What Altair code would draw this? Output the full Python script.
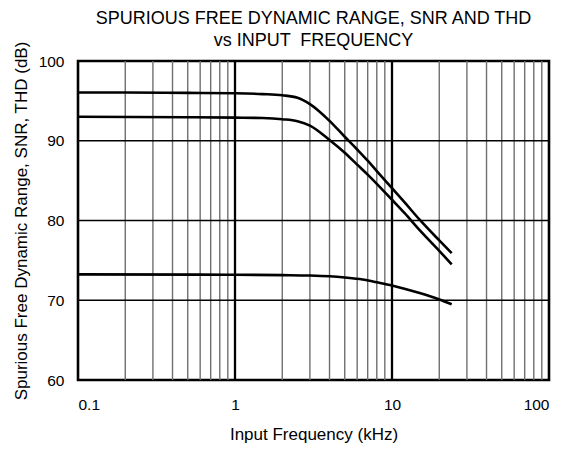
import altair as alt
import pandas as pd

# Curve data
sfdr_f = [0.1, 0.2, 0.5, 1, 1.5, 2, 2.5, 3, 4, 5, 6, 7, 8, 10, 12, 15, 20, 24]
sfdr_v = [96.05, 96.05, 96.0, 95.95, 95.85, 95.7, 95.4, 94.6, 92.5, 90.5, 88.9, 87.5, 86.2, 84.05, 82.3, 80.1, 77.5, 75.9]

snr_f = [0.1, 0.5, 1, 1.5, 2, 2.5, 3, 4, 5, 6, 7, 8, 10, 12, 15, 20, 24]
snr_v = [93.0, 92.95, 92.9, 92.85, 92.7, 92.45, 91.9, 90.1, 88.5, 87.0, 85.75, 84.6, 82.6, 80.95, 78.8, 76.2, 74.5]

thd_f = [0.1, 1, 2, 3, 4, 5, 6.5, 8, 10, 12, 15, 20, 24]
thd_v = [73.25, 73.2, 73.15, 73.1, 73.0, 72.85, 72.6, 72.25, 71.85, 71.45, 70.9, 70.1, 69.5]

x_ticks = [0.1, 1, 10, 100]
y_ticks = [60, 70, 80, 90, 100]
minor_x = [m * d for d in (0.1, 1, 10) for m in range(2, 10)]
major_x = [1, 10]
grid_y = [70, 80, 90]

title_lines = ["SPURIOUS FREE DYNAMIC RANGE, SNR AND THD", "vs INPUT \u00a0FREQUENCY"]

rows = []
for name, fs, vs in (("SFDR", sfdr_f, sfdr_v), ("SNR", snr_f, snr_v), ("THD", thd_f, thd_v)):
    for f, v in zip(fs, vs):
        rows.append({"series": name, "freq": f, "db": v})
df = pd.DataFrame(rows)

xscale = alt.Scale(type="log", domain=[0.1, 100], nice=False)
yscale = alt.Scale(domain=[60, 100], nice=False, zero=False)

FONT = "Liberation Sans"

minor = alt.Chart(pd.DataFrame({"freq": minor_x})).mark_rule(color="#6f6f6f", strokeWidth=1.4).encode(
    x=alt.X("freq:Q", scale=xscale,
            axis=alt.Axis(values=x_ticks, format="~g", grid=False, ticks=False, domain=False,
                          labelFontSize=15.5, labelPadding=17, labelFont=FONT, labelColor="black",
                          title="Input Frequency (kHz)", titleFontSize=17, titleFont=FONT,
                          titleFontWeight="normal", titleColor="black", titlePadding=14))
)
major = alt.Chart(pd.DataFrame({"freq": major_x})).mark_rule(color="black", strokeWidth=2.3).encode(
    x=alt.X("freq:Q", scale=xscale)
)
hgrid = alt.Chart(pd.DataFrame({"db": grid_y})).mark_rule(color="black", strokeWidth=1.3).encode(
    y=alt.Y("db:Q", scale=yscale,
            axis=alt.Axis(values=y_ticks, grid=False, ticks=False, domain=False,
                          labelFontSize=15.5, labelPadding=14, labelFont=FONT, labelColor="black",
                          title="Spurious Free Dynamic Range, SNR, THD (dB)", titleFontSize=17,
                          titleFont=FONT, titleFontWeight="normal", titleColor="black", titlePadding=8))
)
lines = alt.Chart(df).mark_line(color="black", strokeWidth=2.6, interpolate="monotone").encode(
    x=alt.X("freq:Q", scale=xscale),
    y=alt.Y("db:Q", scale=yscale),
    detail="series:N",
)

chart = alt.layer(minor, major, hgrid, lines).properties(
    width=471,
    height=319,
    autosize=alt.AutoSizeParams(type="none"),
    padding={"left": 70, "top": 53, "right": 14, "bottom": 68},
    title=alt.Title(title_lines,
                    font=FONT, fontSize=18, fontWeight="normal", color="black",
                    anchor="middle", frame="group", lineHeight=22, offset=-9),
).configure_view(stroke="black", strokeWidth=2.6)

chart.save("out.html", embed_options={"renderer": "svg", "actions": False})
